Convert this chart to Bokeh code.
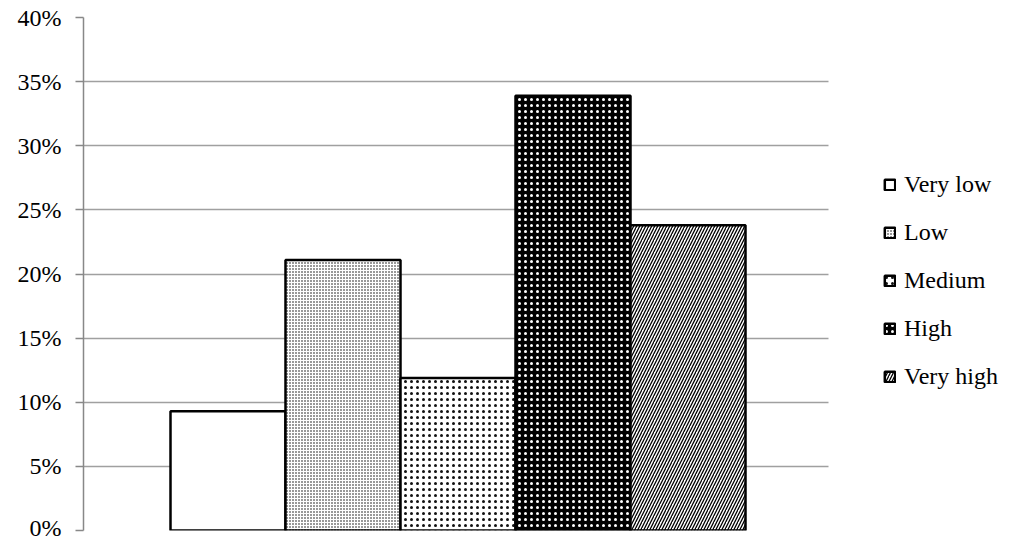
import numpy as np
from bokeh.plotting import figure
from bokeh.models import Range1d, NumeralTickFormatter, Legend, LegendItem, FixedTicker, BoxAnnotation
from bokeh.embed import file_html
from bokeh.resources import INLINE

categories = ["Very low", "Low", "Medium", "High", "Very high"]
values = [0.093, 0.211, 0.119, 0.339, 0.238]
y_ticks = [0, 0.05, 0.10, 0.15, 0.20, 0.25, 0.30, 0.35, 0.40]

# styles per bar (not data)
fills = ["white", "white", "white", "black", "white"]
hatches = [None, "dot", "dot", "dot", "right_diagonal_line"]
hatch_colors = ["black", "black", "#111111", "white", "black"]
hatch_scales = [6, 3, 6, 6, 6]
hatch_weights = [1, 1.6, 1.5, 1.5, 1.3]

FONT = "Liberation Serif"
BAR_PX = 115.0          # pixel width of one bar
FRAME_W = 937
GRID_W = 745            # visible plotting area (gridlines) width

xs = np.arange(len(categories)) + 0.5
x_start = -87.0 / BAR_PX
x_end = x_start + FRAME_W / BAR_PX
grid_right = x_start + GRID_W / BAR_PX

p = figure(
    x_range=Range1d(x_start, x_end),
    y_range=Range1d(0, 0.40),
    frame_width=FRAME_W, frame_height=513,
    min_border_left=83, min_border_top=17, min_border_bottom=10, min_border_right=0,
    output_backend="svg", toolbar_location=None,
)
p.outline_line_color = None
p.background_fill_color = "white"
p.border_fill_color = "white"

items = []
for i, cat in enumerate(categories):
    kw = dict(fill_color=fills[i], line_color="black", line_width=2.5)
    if hatches[i]:
        kw.update(hatch_pattern=hatches[i], hatch_color=hatch_colors[i],
                  hatch_scale=hatch_scales[i], hatch_weight=hatch_weights[i])
    r = p.vbar(x=[xs[i]], top=[values[i]], width=1.0, **kw)
    items.append(LegendItem(label=cat, renderers=[r]))

p.xaxis.visible = False
p.xgrid.visible = False
p.ygrid.ticker = FixedTicker(ticks=y_ticks)
p.ygrid.grid_line_color = "#a0a0a0"
p.ygrid.grid_line_width = 1.5

# blank out the gridlines in the legend area (right of the plotting area)
mask = BoxAnnotation(left=grid_right, fill_color="white", fill_alpha=1.0,
                     line_color=None, level="underlay")
p.add_layout(mask)

ya = p.yaxis[0]
ya.ticker = FixedTicker(ticks=y_ticks)
ya.formatter = NumeralTickFormatter(format="0%")
ya.axis_line_color = "#888888"
ya.axis_line_width = 1.5
ya.major_tick_line_color = "#888888"
ya.major_tick_line_width = 1.5
ya.major_tick_out = 8
ya.major_tick_in = 0
ya.minor_tick_line_color = None
ya.major_label_standoff = 14
ya.major_label_text_font = FONT
ya.major_label_text_font_size = "24px"
ya.major_label_text_color = "black"

legend = Legend(items=items, location=(800, 140), margin=0, padding=0,
                glyph_width=13, glyph_height=13, label_height=22, spacing=21,
                label_standoff=8, border_line_color=None, background_fill_alpha=0,
                label_text_font=FONT, label_text_font_size="24px", label_text_color="black")
p.add_layout(legend)

open("out.html", "w").write(file_html(p, INLINE))
